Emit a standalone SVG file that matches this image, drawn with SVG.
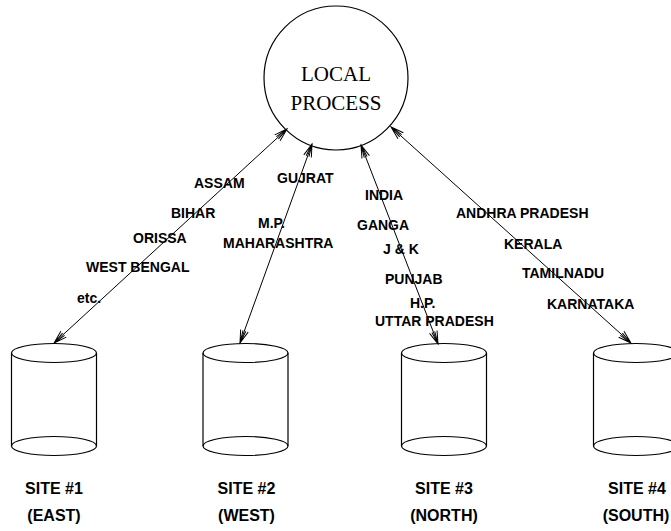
<svg xmlns="http://www.w3.org/2000/svg" width="671" height="531" viewBox="0 0 671 531">
<style>
  .bg { fill: #ffffff; }
  .shape { fill: none; stroke: #000; stroke-width: 1.2; }
  .conn { fill: none; stroke: #000; stroke-width: 1; marker-start: url(#arr); marker-end: url(#arr); }
  .lbl { font-family: "Liberation Sans", Arial, Helvetica, sans-serif; font-weight: bold; font-size: 14px; fill: #000; }
  .site { font-family: "Liberation Sans", Arial, Helvetica, sans-serif; font-weight: bold; font-size: 16px; fill: #000; text-anchor: middle; }
  .proc { font-family: "Liberation Serif", "Times New Roman", serif; font-size: 21px; fill: #000; text-anchor: middle; }
</style>
<defs>
  <marker id="arr" markerUnits="userSpaceOnUse" viewBox="-14 -6 16 12" refX="0" refY="0" markerWidth="16" markerHeight="12" orient="auto-start-reverse" overflow="visible">
    <path d="M-13,-4 L0,0 L-13,4 M-13,-1.5 L0,0 L-13,1.5" fill="none" stroke="#000" stroke-width="1"/>
  </marker>
</defs>
<rect class="bg" x="0" y="0" width="671" height="531"/>

<g id="local-process">
  <circle class="shape" cx="336" cy="78" r="72" stroke-width="1"/>
  <text class="proc" x="336" y="81">LOCAL</text>
  <text class="proc" x="336" y="110">PROCESS</text>
</g>

<g id="site1">
  <ellipse class="shape" cx="54" cy="353" rx="42.5" ry="9.5"/>
  <ellipse class="shape" cx="54" cy="446" rx="42.5" ry="9.5"/>
  <line class="shape" x1="11.5" y1="353" x2="11.5" y2="446"/>
  <line class="shape" x1="96.5" y1="353" x2="96.5" y2="446"/>
  <text class="site" x="54" y="494">SITE #1</text>
  <text class="site" x="54" y="521">(EAST)</text>
</g>

<g id="site2">
  <ellipse class="shape" cx="245.5" cy="353" rx="42.5" ry="9.5"/>
  <ellipse class="shape" cx="245.5" cy="446" rx="42.5" ry="9.5"/>
  <line class="shape" x1="203" y1="353" x2="203" y2="446"/>
  <line class="shape" x1="288" y1="353" x2="288" y2="446"/>
  <text class="site" x="246.5" y="494">SITE #2</text>
  <text class="site" x="246.5" y="521">(WEST)</text>
</g>

<g id="site3">
  <ellipse class="shape" cx="444" cy="353" rx="42.5" ry="9.5"/>
  <ellipse class="shape" cx="444" cy="446" rx="42.5" ry="9.5"/>
  <line class="shape" x1="401.5" y1="353" x2="401.5" y2="446"/>
  <line class="shape" x1="486.5" y1="353" x2="486.5" y2="446"/>
  <text class="site" x="444" y="494">SITE #3</text>
  <text class="site" x="444" y="521">(NORTH)</text>
</g>

<g id="site4">
  <ellipse class="shape" cx="636" cy="353" rx="42.5" ry="9.5"/>
  <ellipse class="shape" cx="636" cy="446" rx="42.5" ry="9.5"/>
  <line class="shape" x1="593.5" y1="353" x2="593.5" y2="446"/>
  <line class="shape" x1="678.5" y1="353" x2="678.5" y2="446"/>
  <text class="site" x="637" y="494">SITE #4</text>
  <text class="site" x="636" y="521">(SOUTH)</text>
</g>

<g id="connectors">
  <line class="conn" x1="287" y1="129" x2="54" y2="343"/>
  <line class="conn" x1="312" y1="144" x2="240" y2="343"/>
  <line class="conn" x1="361" y1="145" x2="438" y2="344"/>
  <line class="conn" x1="391" y1="127" x2="631" y2="343"/>
</g>

<g id="labels-east">
  <text class="lbl" x="194" y="188">ASSAM</text>
  <text class="lbl" x="171" y="218">BIHAR</text>
  <text class="lbl" x="133" y="243">ORISSA</text>
  <text class="lbl" x="86" y="272">WEST BENGAL</text>
  <text class="lbl" x="77" y="303">etc.</text>
</g>
<g id="labels-west">
  <text class="lbl" x="277" y="183">GUJRAT</text>
  <text class="lbl" x="258" y="228">M.P.</text>
  <text class="lbl" x="223" y="248">MAHARASHTRA</text>
</g>
<g id="labels-north">
  <text class="lbl" x="365" y="200">INDIA</text>
  <text class="lbl" x="357" y="230">GANGA</text>
  <text class="lbl" x="383" y="254">J &amp; K</text>
  <text class="lbl" x="385" y="284">PUNJAB</text>
  <text class="lbl" x="410" y="308">H.P.</text>
  <text class="lbl" x="375" y="326">UTTAR PRADESH</text>
</g>
<g id="labels-south">
  <text class="lbl" x="456" y="218">ANDHRA PRADESH</text>
  <text class="lbl" x="504" y="249">KERALA</text>
  <text class="lbl" x="522" y="278">TAMILNADU</text>
  <text class="lbl" x="547" y="309">KARNATAKA</text>
</g>
</svg>
